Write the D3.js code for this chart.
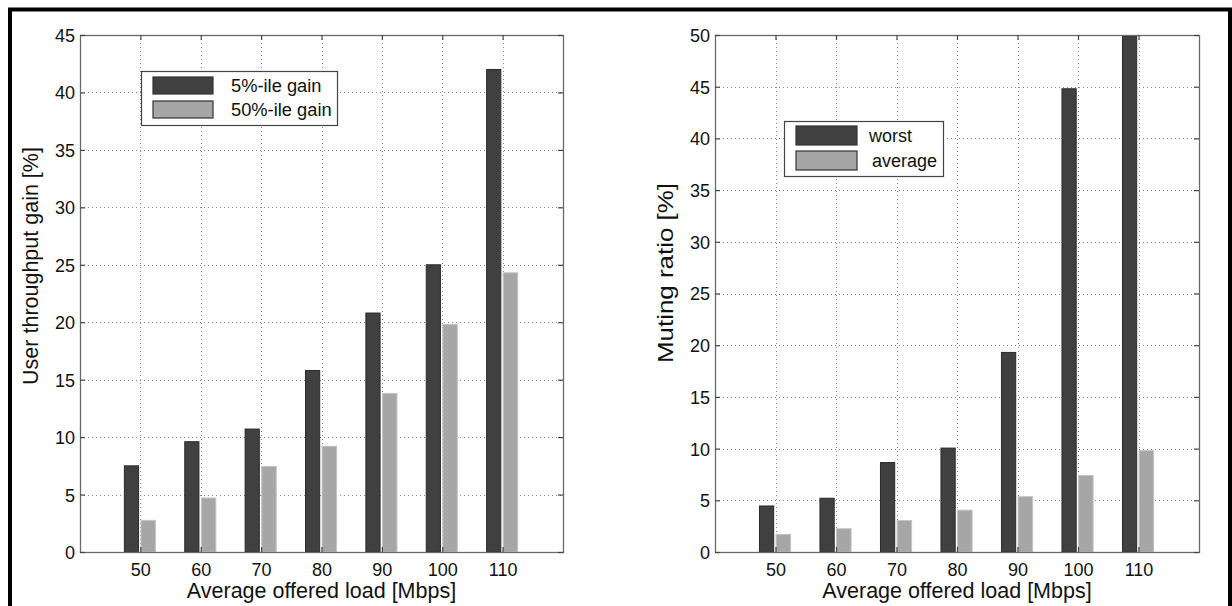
<!DOCTYPE html>
<html>
<head>
<meta charset="utf-8">
<script src="https://cdn.jsdelivr.net/npm/d3@7"></script>
<style>
  body { margin: 0; background: #fff; }
  svg { display: block; font-family: "Liberation Sans", Arial, sans-serif; }
</style>
</head>
<body>
<svg id="chart"></svg>
<script>
// offered load categories (x axis)
const loads = [50, 60, 70, 80, 90, 100, 110];

// left panel: user throughput gain [%]
const gain5 = [7.5, 9.6, 10.7, 15.8, 20.8, 25.0, 42.0];
const gain50 = [2.75, 4.7, 7.45, 9.2, 13.8, 19.8, 24.3];

// right panel: muting ratio [%]
const muteWorst = [4.45, 5.2, 8.65, 10.05, 19.3, 44.8, 49.9];
const muteAvg = [1.7, 2.25, 3.05, 4.05, 5.35, 7.4, 9.8];

const W = 1232, H = 606;
const DARK = '#404040', LIGHT = '#a6a6a6';

const svg = d3.select('#chart')
  .attr('width', W)
  .attr('height', H)
  .attr('viewBox', [0, 0, W, H]);

// outer frame
svg.append('rect')
  .attr('x', 10).attr('y', 9.5)
  .attr('width', 1220).attr('height', 640)
  .attr('fill', 'none')
  .attr('stroke', '#000')
  .attr('stroke-width', 4);

//
// Draws one MATLAB-like grouped bar panel
//
const drawPanel = ({
  left, right, top = 35, bottom = 552,
  yMax, yLabel, yLabelX, yLabelY, yLabelLen,
  series, names, legend
}) => {
  const x = d3.scaleLinear([40, 120], [left, right]);
  const y = d3.scaleLinear([0, yMax], [bottom, top]);
  const yTicks = d3.range(0, yMax + 0.1, 5);

  const g = svg.append('g');

  // grid
  g.append('g')
    .selectAll('line')
    .data(loads)
    .join('line')
      .attr('x1', d => Math.round(x(d)) + 0.5).attr('x2', d => Math.round(x(d)) + 0.5)
      .attr('y1', top).attr('y2', bottom)
      .attr('stroke', '#8a8a8a')
      .attr('stroke-dasharray', '1,3');
  g.append('g')
    .selectAll('line')
    .data(yTicks.slice(1, -1))
    .join('line')
      .attr('x1', left).attr('x2', right)
      .attr('y1', d => Math.round(y(d)) + 0.5).attr('y2', d => Math.round(y(d)) + 0.5)
      .attr('stroke', '#8a8a8a')
      .attr('stroke-dasharray', '1,3');

  // bars: first series left of the tick, second right of it
  const offsets = [[-2.65, -0.3], [0.1, 2.5]];
  const fills = [DARK, LIGHT];
  const strokes = ['#2a2a2a', '#c4c4c4'];
  series.forEach((vals, s) => {
    g.append('g')
      .selectAll('rect')
      .data(vals)
      .join('rect')
        .attr('x', (d, i) => x(loads[i] + offsets[s][0]))
        .attr('width', x(offsets[s][1]) - x(offsets[s][0]))
        .attr('y', d => y(d))
        .attr('height', d => y(0) - y(d))
        .attr('fill', fills[s])
        .attr('stroke', strokes[s])
        .attr('stroke-width', 1);
  });

  // axes box
  g.append('rect')
    .attr('x', left + 0.5).attr('y', top + 0.5)
    .attr('width', right - left).attr('height', bottom - top)
    .attr('fill', 'none')
    .attr('stroke', '#6a6a6a')
    .attr('stroke-width', 1.3);

  // inward ticks on all four sides
  const tickLen = 5;
  const bottomAxis = d3.axisBottom(x).tickValues(loads).tickSize(-tickLen).tickPadding(11);
  const topAxis = d3.axisTop(x).tickValues(loads).tickSize(-tickLen).tickFormat('');
  const leftAxis = d3.axisLeft(y).tickValues(yTicks).tickSize(-tickLen).tickPadding(5);
  const rightAxis = d3.axisRight(y).tickValues(yTicks).tickSize(-tickLen).tickFormat('');

  const styleAxis = sel => {
    sel.select('.domain').remove();
    sel.selectAll('line').attr('stroke', '#444').attr('stroke-width', 1.2);
    sel.selectAll('text').attr('fill', '#111').attr('font-size', 18)
      .attr('font-family', '"Liberation Sans", Arial, sans-serif');
  };

  g.append('g').attr('transform', `translate(0,${bottom})`).call(bottomAxis).call(styleAxis);
  g.append('g').attr('transform', `translate(0,${top})`).call(topAxis).call(styleAxis);
  g.append('g').attr('transform', `translate(${left},0)`).call(leftAxis).call(styleAxis)
    .selectAll('text').attr('dy', '0.36em');
  g.append('g').attr('transform', `translate(${right},0)`).call(rightAxis).call(styleAxis);

  // axis labels
  g.append('text')
    .attr('x', (left + right) / 2)
    .attr('y', 598)
    .attr('text-anchor', 'middle')
    .attr('font-size', 21.5)
    .attr('fill', '#111')
    .text('Average offered load [Mbps]');

  const yl = g.append('text')
    .attr('transform', `translate(${yLabelX},${yLabelY}) rotate(-90)`)
    .attr('text-anchor', 'middle')
    .attr('font-size', 21.5)
    .attr('fill', '#111')
    .text(yLabel);
  if (yLabelLen) yl.attr('textLength', yLabelLen).attr('lengthAdjust', 'spacingAndGlyphs');

  // legend
  const lg = g.append('g');
  lg.append('rect')
    .attr('x', legend.x + 0.5).attr('y', legend.y + 0.5)
    .attr('width', legend.w).attr('height', legend.h)
    .attr('fill', '#fff')
    .attr('stroke', '#444')
    .attr('stroke-width', 1.2);
  names.forEach((name, s) => {
    const sy = legend.y + legend.pad + s * legend.step;
    lg.append('rect')
      .attr('x', legend.x + legend.sx).attr('y', sy)
      .attr('width', legend.sw).attr('height', legend.sh)
      .attr('fill', fills[s])
      .attr('stroke', '#333')
      .attr('stroke-width', 1.2);
    lg.append('text')
      .attr('x', legend.x + legend.tx + (s ? legend.tshift : 0))
      .attr('y', sy + legend.sh / 2)
      .attr('dy', '0.36em')
      .attr('font-size', legend.fs)
      .attr('fill', '#111')
      .text(name);
  });
};

drawPanel({
  left: 80, right: 563, yMax: 45,
  yLabel: 'User throughput gain [%]', yLabelX: 38, yLabelY: 266,
  series: [gain5, gain50],
  names: ['5%-ile gain', '50%-ile gain'],
  legend: { x: 141, y: 71, w: 196, h: 54, pad: 6, step: 24, sx: 12, sw: 60, sh: 17, tx: 90, tshift: 0, fs: 18.3 }
});

drawPanel({
  left: 715, right: 1199, yMax: 50,
  yLabel: 'Muting ratio [%]', yLabelX: 673, yLabelY: 273, yLabelLen: 180,
  series: [muteWorst, muteAvg],
  names: ['worst', 'average'],
  legend: { x: 784, y: 121, w: 159, h: 55, pad: 5, step: 25, sx: 12, sw: 61, sh: 19, tx: 85, tshift: 3, fs: 18 }
});
</script>
</body>
</html>
